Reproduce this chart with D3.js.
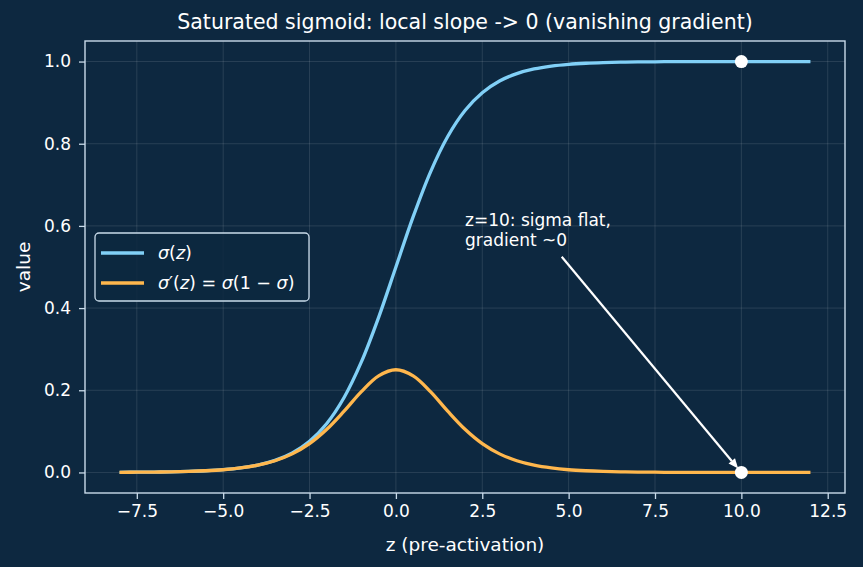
<!DOCTYPE html>
<html><head><meta charset="utf-8">
<script src="https://cdn.jsdelivr.net/npm/d3@7"></script>
<style>
html,body{margin:0;padding:0;background:#0d2840;}
svg{display:block;font-family:"DejaVu Sans",sans-serif;}
</style></head>
<body>
<svg id="chart" width="863" height="567"></svg>
<script>
// ---- data ----
const zValues = [-8,-7.5,-7,-6.5,-6,-5.5,-5,-4.5,-4,-3.5,-3,-2.5,-2,-1.5,-1,-0.5,0,0.5,1,1.5,2,2.5,3,3.5,4,4.5,5,5.5,6,6.5,7,7.5,8,8.5,9,9.5,10,10.5,11,11.5,12];
const sigmaValues = [0.0003,0.0006,0.0009,0.0015,0.0025,0.0041,0.0067,0.0110,0.0180,0.0293,0.0474,0.0759,0.1192,0.1824,0.2689,0.3775,0.5,0.6225,0.7311,0.8176,0.8808,0.9241,0.9526,0.9707,0.9820,0.9890,0.9933,0.9959,0.9975,0.9985,0.9991,0.9994,0.9997,0.9998,0.9999,0.9999,1.0,1.0,1.0,1.0,1.0];
const gradValues = [0.0003,0.0006,0.0009,0.0015,0.0025,0.0041,0.0066,0.0109,0.0177,0.0285,0.0452,0.0701,0.1050,0.1491,0.1966,0.2350,0.25,0.2350,0.1966,0.1491,0.1050,0.0701,0.0452,0.0285,0.0177,0.0109,0.0066,0.0041,0.0025,0.0015,0.0009,0.0006,0.0003,0.0002,0.0001,0.0001,0.0,0.0,0.0,0.0,0.0];
const markerPoints = [{z:10, v:1.0},{z:10, v:0.0}];
const xTicks = [-7.5,-5.0,-2.5,0.0,2.5,5.0,7.5,10.0,12.5];
const yTicks = [0.0,0.2,0.4,0.6,0.8,1.0];
const titleText = "Saturated sigmoid: local slope -> 0 (vanishing gradient)";
const xLabel = "z (pre-activation)";
const yLabel = "value";
const annotLines = ["z=10: sigma flat,","gradient ~0"];
const annotText = {z:2.0, v:0.55};
const arrowStart = {z:4.8, v:0.525};
const arrowEnd = {z:10, v:0.0};

// ---- layout ----
const svg = d3.select("#chart");
const W = 863, H = 567;
const m = {left:85, right:18, top:41, bottom:74};
const bg = "#0d2840";
const fg = "#ffffff";
const spine = "#c9dbea";
const blue = "#81d0f7";
const orange = "#ffb74d";

svg.append("rect").attr("width",W).attr("height",H).attr("fill",bg);

const x = d3.scaleLinear().domain([-9,13]).range([m.left, W-m.right]);
const y = d3.scaleLinear().domain([-0.05,1.05]).range([H-m.bottom, m.top]);

// grid
const g = svg.append("g");
g.selectAll(".gx").data(xTicks).join("line")
  .attr("x1",d=>x(d)).attr("x2",d=>x(d)).attr("y1",y(-0.05)).attr("y2",y(1.05))
  .attr("stroke","#ffffff").attr("stroke-opacity",0.13).attr("stroke-width",0.9);
g.selectAll(".gy").data(yTicks).join("line")
  .attr("y1",d=>y(d)).attr("y2",d=>y(d)).attr("x1",x(-9)).attr("x2",x(13))
  .attr("stroke","#ffffff").attr("stroke-opacity",0.13).attr("stroke-width",0.9);

// axes
const fmt = d3.format(".1f");
const tickFmt = d => fmt(d).replace("-","\u2212");
const xAxis = svg.append("g").attr("transform",`translate(0,${H-m.bottom})`)
  .call(d3.axisBottom(x).tickValues(xTicks).tickFormat(tickFmt).tickSizeOuter(0).tickSize(6).tickPadding(6));
const yAxis = svg.append("g").attr("transform",`translate(${m.left},0)`)
  .call(d3.axisLeft(y).tickValues(yTicks).tickFormat(tickFmt).tickSizeOuter(0).tickSize(6).tickPadding(8));
[xAxis,yAxis].forEach(a=>{
  a.select(".domain").remove();
  a.selectAll("line").attr("stroke",spine).attr("stroke-width",1.3);
  a.selectAll("text").attr("fill",fg).attr("font-size",17).attr("font-family","DejaVu Sans");
});

// curves
const pts = (vals)=> zValues.map((z,i)=>[z,vals[i]]);
const line = d3.line().x(d=>x(d[0])).y(d=>y(d[1])).curve(d3.curveCatmullRom.alpha(0.5));
const clip = svg.append("clipPath").attr("id","clip").append("rect")
  .attr("x",m.left).attr("y",m.top).attr("width",W-m.left-m.right).attr("height",H-m.top-m.bottom);
const plot = svg.append("g").attr("clip-path","url(#clip)");
plot.append("path").attr("d",line(pts(sigmaValues))).attr("fill","none").attr("stroke",blue).attr("stroke-width",3.3).attr("stroke-linecap","butt");
plot.append("path").attr("d",line(pts(gradValues))).attr("fill","none").attr("stroke",orange).attr("stroke-width",3.3).attr("stroke-linecap","butt");

// annotation arrow
const sx = x(arrowStart.z), sy = y(arrowStart.v);
const ex0 = x(arrowEnd.z), ey0 = y(arrowEnd.v);
const ang = Math.atan2(ey0-sy, ex0-sx);
const shrink = 5;
const ex = ex0 - shrink*Math.cos(ang), ey = ey0 - shrink*Math.sin(ang);
const hl = 10, hw = 4.2;
const bx = ex - hl*Math.cos(ang), by = ey - hl*Math.sin(ang);
svg.append("line").attr("x1",sx).attr("y1",sy).attr("x2",bx).attr("y2",by)
  .attr("stroke",fg).attr("stroke-width",2.2);
svg.append("path").attr("d",`M${ex},${ey}L${bx - hw*Math.sin(ang)},${by + hw*Math.cos(ang)}L${bx + hw*Math.sin(ang)},${by - hw*Math.cos(ang)}Z`)
  .attr("fill",fg);

// markers
svg.selectAll(".mk").data(markerPoints).join("circle")
  .attr("cx",d=>x(d.z)).attr("cy",d=>y(d.v)).attr("r",6.5).attr("fill","#ffffff");

// annotation text (last line baseline at annotText.v)
const lh = 20;
annotLines.forEach((t,i)=>{
  svg.append("text").attr("fill",fg).attr("font-size",17)
    .attr("x",x(annotText.z))
    .attr("y", y(annotText.v) - lh*(annotLines.length-1-i)).text(t);
});

// spines
svg.append("rect").attr("x",m.left).attr("y",m.top).attr("width",W-m.left-m.right).attr("height",H-m.top-m.bottom)
  .attr("fill","none").attr("stroke",spine).attr("stroke-width",1.4);

// title & labels
svg.append("text").attr("x",(m.left+W-m.right)/2).attr("y",29).attr("text-anchor","middle")
  .attr("fill",fg).attr("font-size",20.5).text(titleText);
svg.append("text").attr("x",(m.left+W-m.right)/2).attr("y",551).attr("text-anchor","middle")
  .attr("fill",fg).attr("font-size",18.5).text(xLabel);
svg.append("text").attr("transform",`translate(30,${(m.top+H-m.bottom)/2}) rotate(-90)`).attr("text-anchor","middle")
  .attr("fill",fg).attr("font-size",18.5).text(yLabel);

// legend
const lg = svg.append("g").attr("transform","translate(95,233)");
lg.append("rect").attr("x",0).attr("y",0).attr("width",214).attr("height",68).attr("rx",4)
  .attr("fill",bg).attr("fill-opacity",0.85).attr("stroke",spine).attr("stroke-width",1.3);
const entries = [
  {color:blue, parts:[["σ","i"],["(",""],["z","i"],[")",""]]},
  {color:orange, parts:[["σ","i"],["′(",""],["z","i"],[") = ",""],["σ","i"],["(1 − ",""],["σ","i"],[")",""]]}
];
entries.forEach((e,i)=>{
  const yy = 20 + i*30;
  lg.append("line").attr("x1",6).attr("x2",49).attr("y1",yy).attr("y2",yy).attr("stroke",e.color).attr("stroke-width",3.3);
  const t = lg.append("text").attr("x",63).attr("y",yy+6).attr("fill",fg).attr("font-size",17.5).attr("xml:space","preserve");
  e.parts.forEach(p=>{
    t.append("tspan").attr("font-style",p[1]==="i"?"italic":"normal").text(p[0]);
  });
});
</script>
</body></html>
